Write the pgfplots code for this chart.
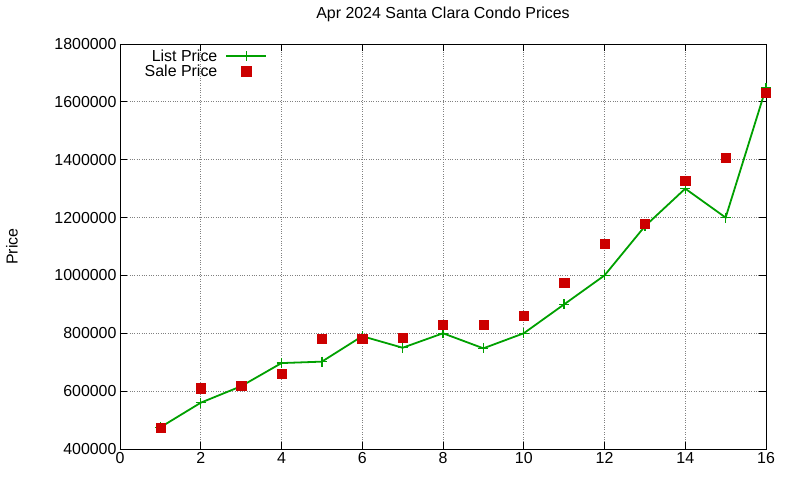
\documentclass[border=0pt]{standalone}
\usepackage{pgfplots}
\pgfplotsset{compat=1.18}
\usepackage{fontspec}
\setmainfont{Liberation Sans}
\definecolor{listgreen}{RGB}{0,160,0}
\definecolor{salered}{RGB}{204,0,0}

\begin{document}
\begin{tikzpicture}
\path[use as bounding box] (-120bp,-31bp) rectangle (680bp,449bp);
\begin{axis}[
    at={(0,0)}, anchor=south west,
    scale only axis,
    width=646bp, height=405bp,
    xmin=0, xmax=16,
    ymin=400000, ymax=1800000,
    xtick={0,2,...,16},
    xticklabels={0,2,4,6,8,10,12,14,16},
    ytick={400000,600000,...,1800000},
    yticklabels={400000,600000,800000,1000000,1200000,1400000,1600000,1800000},
    scaled y ticks=false,
    tick align=inside,
    major tick length=7bp,
    tick style={black, line width=0.8pt},
    axis line style={black, line width=0.8pt},
    grid=major,
    grid style={gray, dotted, line width=0.8pt},
    tick label style={font=\fontsize{16}{19}\selectfont},
    title={Apr 2024 Santa Clara Condo Prices},
    title style={at={(0.5,1)}, anchor=center, yshift=24bp, font=\fontsize{16}{19}\selectfont},
    ylabel={Price},
    ylabel style={at={(0,0.5)}, anchor=center, yshift=108bp, xshift=0pt,
        font=\fontsize{16}{19}\selectfont},
    legend plot pos=right,
    legend cell align=right,
    legend style={draw=none, fill=none, at={(axis cs:3.65,1788000)}, anchor=north east,
        row sep=-2bp, column sep=6bp, inner sep=0pt, font=\fontsize{16}{19}\selectfont,
        nodes={inner sep=2bp}},
]
\addplot[color=listgreen, line width=1.8pt, mark=+, mark size=5bp,
    mark options={line width=1.4pt},
    legend image code/.code={
        \draw[mark repeat=2, mark phase=2] plot coordinates {(0bp,0bp) (20bp,0bp) (40bp,0bp)};}
    ] coordinates {
    (1,475000) (2,560000) (3,617000) (4,697000) (5,702000) (6,790000)
    (7,750000) (8,800000) (9,748000) (10,800000) (11,900000) (12,1000000)
    (13,1170000) (14,1300000) (15,1200000) (16,1648000)
};
\addlegendentry{List Price}
\addplot[only marks, color=salered, mark=square*, mark size=4.6bp,
    legend image code/.code={
        \draw plot coordinates {(20bp,0bp)};}
    ] coordinates {
    (1,475000) (2,610000) (3,620000) (4,660000) (5,780000) (6,780000)
    (7,785000) (8,830000) (9,830000) (10,860000) (11,975000) (12,1110000)
    (13,1178000) (14,1328000) (15,1408000) (16,1632000)
};
\addlegendentry{Sale Price}
\end{axis}
\end{tikzpicture}
\end{document}
